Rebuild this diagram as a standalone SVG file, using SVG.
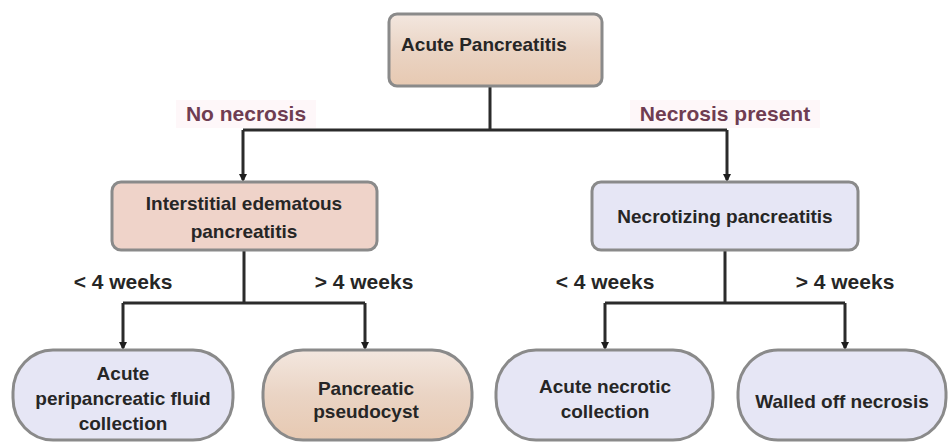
<svg xmlns="http://www.w3.org/2000/svg" width="951" height="445" viewBox="0 0 951 445">
  <style>
    .node { stroke: #8a8a8a; stroke-width: 3; }
    .peach { fill: url(#peachFill); }
    .pink { fill: #efd3c9; }
    .lav { fill: #e6e6f5; }
    .txt { font-family: "Liberation Sans", Arial, sans-serif; font-size: 19px; font-weight: bold; fill: #262626; text-anchor: middle; }
    .lbl { font-family: "Liberation Sans", Arial, sans-serif; font-size: 21px; font-weight: bold; fill: #6f3d52; text-anchor: middle; }
    .wk { font-family: "Liberation Sans", Arial, sans-serif; font-size: 21px; font-weight: bold; fill: #262626; text-anchor: middle; }
    .edge { fill: none; stroke: #2b2b2b; stroke-width: 3; }
  </style>
  <defs>
    <linearGradient id="peachFill" x1="0" y1="0" x2="0" y2="1">
      <stop offset="0" stop-color="#f3e7df"/>
      <stop offset="0.5" stop-color="#ead4c4"/>
      <stop offset="1" stop-color="#e7c9b2"/>
    </linearGradient>
    <marker id="arrow" markerWidth="8" markerHeight="8" refX="6" refY="4" orient="auto" markerUnits="userSpaceOnUse">
      <path d="M0,0 L8,4 L0,8 Z" fill="#1e1e1e"/>
    </marker>
  </defs>

  <rect width="951" height="445" fill="#ffffff"/>

  <!-- connectors -->
  <g id="connectors">
    <path class="edge" d="M490,86 V130 M243,130 H727"/>
    <path class="edge" d="M243,130 V180" marker-end="url(#arrow)"/>
    <path class="edge" d="M727,130 V180" marker-end="url(#arrow)"/>

    <path class="edge" d="M244,250 V303 M123,303 H365"/>
    <path class="edge" d="M123,303 V348" marker-end="url(#arrow)"/>
    <path class="edge" d="M365,303 V348" marker-end="url(#arrow)"/>

    <path class="edge" d="M725,250 V303 M605,303 H845"/>
    <path class="edge" d="M605,303 V348" marker-end="url(#arrow)"/>
    <path class="edge" d="M845,303 V348" marker-end="url(#arrow)"/>

    <rect x="176" y="100" width="140" height="28" fill="#fdf3f7" opacity="0.7"/>
    <text class="lbl" x="246" y="121">No necrosis</text>
    <rect x="630" y="100" width="190" height="28" fill="#fdf3f7" opacity="0.7"/>
    <text class="lbl" x="725" y="121">Necrosis present</text>

    <text class="wk" x="123" y="289">&lt; 4 weeks</text>
    <text class="wk" x="364" y="289">&gt; 4 weeks</text>
    <text class="wk" x="605" y="289">&lt; 4 weeks</text>
    <text class="wk" x="845" y="289">&gt; 4 weeks</text>
  </g>

  <!-- top -->
  <g id="acute-pancreatitis">
    <rect class="node peach" x="389" y="14" width="213" height="72" rx="8"/>
    <text class="txt" x="484" y="51" font-size="21">Acute Pancreatitis</text>
  </g>

  <!-- middle -->
  <g id="interstitial">
    <rect class="node pink" x="112" y="182" width="265" height="68" rx="9"/>
    <text class="txt" x="244" y="210">Interstitial edematous</text>
    <text class="txt" x="244" y="238">pancreatitis</text>
  </g>
  <g id="necrotizing">
    <rect class="node lav" x="592" y="182" width="266" height="68" rx="9"/>
    <text class="txt" x="725" y="223">Necrotizing pancreatitis</text>
  </g>

  <!-- bottom -->
  <g id="apfc">
    <rect class="node lav" x="13" y="350" width="220" height="90" rx="40" ry="42"/>
    <text class="txt" x="123" y="380">Acute</text>
    <text class="txt" x="123" y="405">peripancreatic fluid</text>
    <text class="txt" x="123" y="430">collection</text>
  </g>
  <g id="pseudocyst">
    <rect class="node peach" x="263" y="350" width="209" height="90" rx="40" ry="42"/>
    <text class="txt" x="366" y="395">Pancreatic</text>
    <text class="txt" x="366" y="418">pseudocyst</text>
  </g>
  <g id="anc">
    <rect class="node lav" x="496" y="350" width="217" height="90" rx="40" ry="42"/>
    <text class="txt" x="605" y="393">Acute necrotic</text>
    <text class="txt" x="605" y="418">collection</text>
  </g>
  <g id="won">
    <rect class="node lav" x="738" y="350" width="208" height="90" rx="40" ry="42"/>
    <text class="txt" x="842" y="408">Walled off necrosis</text>
  </g>
</svg>
